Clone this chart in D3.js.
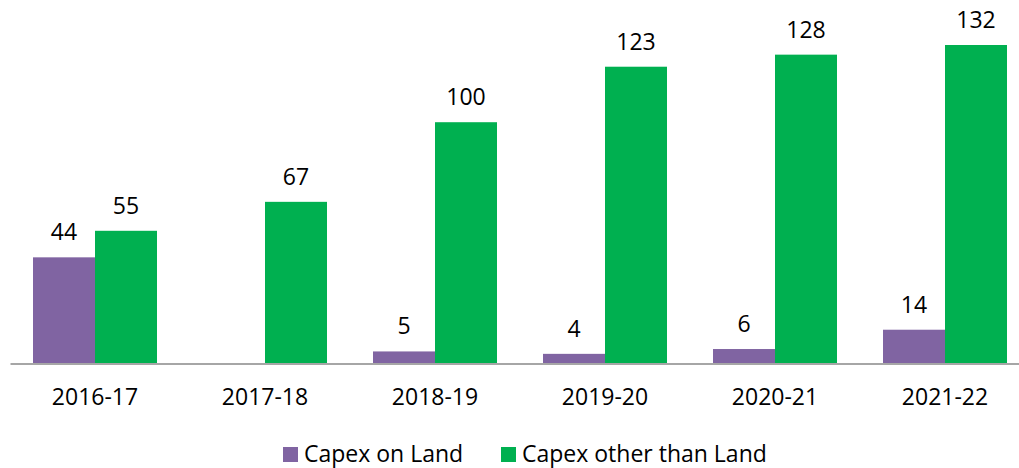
<!DOCTYPE html>
<html>
<head>
<meta charset="utf-8">
<script src="https://cdn.jsdelivr.net/npm/d3@7"></script>
<style>
  body { margin: 0; background: #fff; }
  text { font-family: "Open Sans", sans-serif; fill: #000; }
</style>
</head>
<body>
<svg id="chart" width="1019" height="468"></svg>
<script>
var years = ["2016-17", "2017-18", "2018-19", "2019-20", "2020-21", "2021-22"];
var seriesNames = ["Capex on Land", "Capex other than Land"];
var landValues = [44, null, 5, 4, 6, 14];
var otherValues = [55, 67, 100, 123, 128, 132];
var colors = ["#8064A2", "#00B050"];

var svg = d3.select("#chart");
var baseY = 363.5;
var fontSize = "23px";

var x = d3.scaleBand()
  .domain(years)
  .range([10, 1030])
  .paddingInner(46 / 170)
  .paddingOuter(23 / 170);

var xSub = d3.scaleBand()
  .domain([0, 1])
  .range([0, x.bandwidth()]);

var y = d3.scaleLinear()
  .domain([0, 132])
  .range([baseY, 45]);

var rows = years.map(function(yr, i) {
  return { year: yr, vals: [landValues[i], otherValues[i]] };
});

var groups = svg.selectAll(".grp")
  .data(rows)
  .enter().append("g")
    .attr("class", "grp")
    .attr("transform", function(d) { return "translate(" + x(d.year) + ",0)"; });

groups.selectAll("rect")
  .data(function(d) { return d.vals.map(function(v, k) { return { v: v, k: k }; }); })
  .enter().filter(function(d) { return d.v != null; }).append("rect")
    .attr("x", function(d) { return xSub(d.k); })
    .attr("y", function(d) { return y(d.v); })
    .attr("width", xSub.bandwidth())
    .attr("height", function(d) { return baseY - y(d.v); })
    .attr("fill", function(d) { return colors[d.k]; });

groups.selectAll(".lbl")
  .data(function(d) { return d.vals.map(function(v, k) { return { v: v, k: k }; }); })
  .enter().filter(function(d) { return d.v != null; }).append("text")
    .attr("class", "lbl")
    .attr("x", function(d) { return xSub(d.k) + xSub.bandwidth() / 2; })
    .attr("y", function(d) { return y(d.v) - 17; })
    .attr("text-anchor", "middle")
    .style("font-size", fontSize)
    .text(function(d) { return d.v; });

// axis
var xAxis = d3.axisBottom(x).tickSize(0).tickPadding(25);
var ax = svg.append("g")
  .attr("transform", "translate(0," + baseY + ")")
  .call(xAxis);
ax.select(".domain").attr("stroke", "#a6a6a6").attr("stroke-width", 2);
ax.selectAll("text")
  .style("font-size", fontSize)
  .style("font-family", "'Open Sans', sans-serif")
  .attr("fill", "#000");

// legend
var legendX = [283, 501];
var legend = svg.selectAll(".leg")
  .data(seriesNames)
  .enter().append("g")
    .attr("class", "leg")
    .attr("transform", function(d, i) { return "translate(" + legendX[i] + ",447)"; });
legend.append("rect")
  .attr("width", 15)
  .attr("height", 15)
  .attr("fill", function(d, i) { return colors[i]; });
legend.append("text")
  .attr("x", 21)
  .attr("y", 15)
  .style("font-size", fontSize)
  .text(function(d) { return d; });
</script>
</body>
</html>
